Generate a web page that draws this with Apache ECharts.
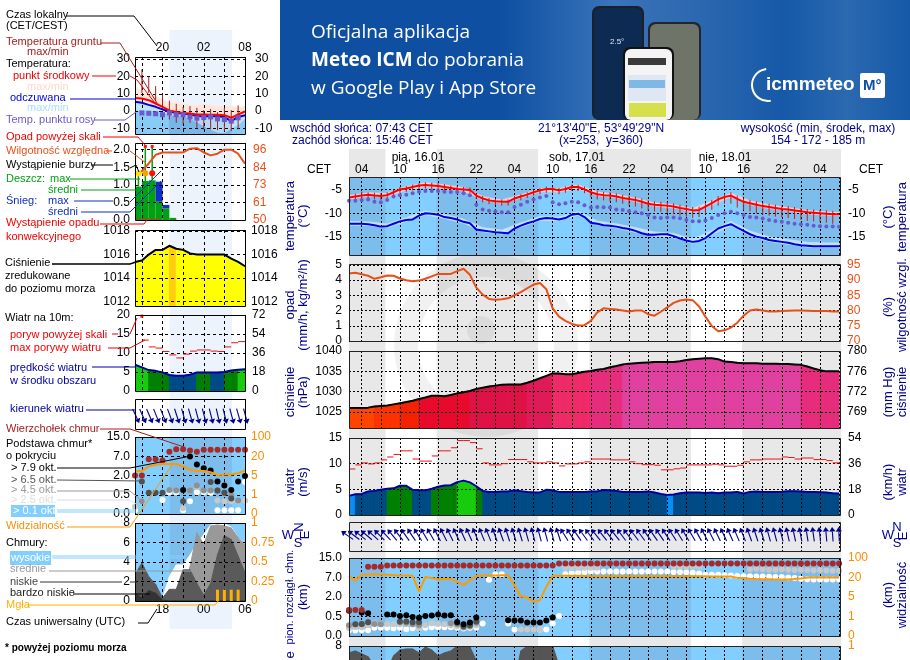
<!DOCTYPE html>
<html><head><meta charset="utf-8">
<script src="https://cdn.jsdelivr.net/npm/echarts@6/dist/echarts.min.js"></script>
<style>html,body{margin:0;padding:0;background:#fff}#c{width:910px;height:660px}</style></head><body><div id="c"></div>
<script>
// ---------- main meteogram: hourly, hours counted from 16.01 00:00 CET ----------
const mainHours = Array.from({length:78},(_,i)=>i+2);
const mainGridHours = [4,7,10,13,16,19,22,25,28,31,34,37,40,43,46,49,52,55,58,61,64,67,70,73,76,79];
const mainLabelHours = [4,10,16,22,28,34,40,46,52,58,64,70,76];
const mainDay = [[7.72,15.77],[31.72,39.77],[55.72,63.77]];
const mainNight = [[2,7.72],[15.77,31.72],[39.77,55.72],[63.77,79.3]];
const mainTemp = [-6.7,-6.5,-6.3,-6.1,-6.3,-6.4,-6.2,-5.6,-5,-4.8,-4.5,-4.2,-4.1,-4.2,-4.3,-4.5,-4.7,-4.9,-5,-5.1,-6.3,-6.9,-7.3,-7.5,-7.6,-7.6,-6.9,-6.5,-6.1,-5.6,-5.2,-4.9,-4.9,-5.2,-4.9,-4.5,-4.5,-5,-5.6,-6,-6.2,-6.3,-6.5,-6.8,-7,-7.2,-7.6,-8,-8.2,-8.3,-8.4,-8.6,-8.9,-9.1,-9.4,-9.3,-8.6,-7.9,-7.1,-6.6,-6.3,-7,-7.6,-7.9,-8.2,-8.5,-8.7,-8.9,-9.1,-9.2,-9.4,-9.6,-9.8,-9.9,-10,-10.1,-10.2,-10.2];
const mainFeels = [-12.2,-12.2,-12.2,-12.3,-12.5,-12.8,-12.7,-12.2,-11.7,-11.4,-11.3,-10.5,-10,-10.1,-10.3,-10.8,-11,-11.3,-11.8,-12.1,-13.4,-13.6,-13.8,-14,-14.1,-14.2,-13.2,-12.6,-12.1,-11.7,-11.2,-11,-11.1,-11.3,-11,-10.3,-10.1,-10.8,-12,-12.2,-12.5,-12.6,-12.8,-13.1,-13.3,-13.7,-14.2,-14.5,-14.5,-14.4,-14.4,-14.8,-15.3,-15.7,-16,-15.8,-15.2,-14.2,-13.2,-12.7,-12.3,-13,-13.7,-14.4,-14.9,-15.2,-15.6,-15.8,-16,-16.2,-16.5,-16.7,-16.8,-16.9,-16.9,-16.9,-16.9,-16.9];
const mainDew = [-7.4,-7.4,-7.2,-7.1,-7.6,-7.7,-7.2,-6.5,-6.25,-6.1,-5.8,-5.5,-5.35,-5.35,-5.35,-5.5,-5.55,-5.55,-5.8,-6.25,-8.2,-9.2,-9.5,-9.65,-9.8,-9.8,-8.7,-8.2,-7.6,-7.1,-6.7,-6.4,-7.7,-8.1,-7.9,-7.6,-7.7,-8.3,-8.8,-8.7,-8.75,-8.8,-9.2,-9.3,-9.6,-9.8,-10,-10.35,-10.9,-11,-10.9,-10.9,-11.05,-11.4,-11.7,-11.7,-11.5,-11,-10.35,-10,-9.7,-10,-10.35,-10.8,-10.9,-11.1,-11.4,-11.6,-11.8,-12,-12.2,-12.3,-12.4,-12.6,-12.7,-12.8,-12.8,-12.85];
const mainGroundHi = [null,-5.9,-5.5,-5.6,-5.7,-5.8,-5.6,-5,-4.5,-4.3,-4,-3.7,-3.5,-3.6,-3.7,-3.9,-4.2,-4.3,-4.5,-4.6,-5.8,-6.4,-6.8,-7,-7.1,-7.1,-6.4,-6,-5.6,-5.1,-4.7,-4.4,-4.4,-4.7,-4.4,-4,-4,-4.4,-5,-5.3,-5.5,-5.6,-5.8,-6.1,-6.3,-6.5,-6.9,-7.3,-7.5,-7.6,-7.7,-7.9,-8.2,-8.4,-8.7,-8.6,-7.9,-7.2,-6.4,-5.9,-5.6,-6.3,-6.9,-7.2,-7.5,-7.8,-8,-8.2,-8.4,-8.5,-8.7,-8.9,-9.1,-9.2,-9.3,-9.4,-9.5,null];
const mainGroundLo = [null,-7.4,-7.1,-7,-7.1,-7.2,-7,-6.3,-5.7,-5.5,-5.2,-4.9,-4.8,-4.9,-5,-5.2,-5.4,-5.6,-5.7,-5.8,-7,-7.7,-8.1,-8.3,-8.4,-8.4,-7.7,-7.3,-6.8,-6.3,-6,-5.7,-5.7,-6,-5.7,-5.3,-5.3,-5.8,-6.6,-7.1,-7.3,-7.5,-7.7,-8,-8.4,-8.6,-9,-9.4,-9.6,-9.7,-10,-10.2,-10.5,-10.7,-11,-10.8,-10.1,-9.3,-8.4,-8,-8,-8.8,-9.3,-9.6,-10,-10.3,-10.5,-10.7,-10.9,-11,-11.2,-11.4,-11.6,-11.7,-11.8,-12,-12.2,null];
const bandHours = [2,5,8,11,14,17,20,23,26,29,32,35,38,41,44,47,50,53,56,59,62,65,68,71,74,77,79];
const tempHi = [-6.3,-5.7,-5.8,-4.4,-3.6,-4,-4.6,-6.5,-7.2,-6.1,-4.8,-4.8,-4,-5.5,-6,-6.8,-7.8,-8.2,-9,-7.4,-5.8,-7.4,-8.2,-8.8,-9.4,-9.7,-9.8];
const tempLo = [-7,-6.4,-6.5,-5.1,-4.4,-4.8,-5.3,-7.2,-7.9,-6.8,-5.5,-5.5,-4.8,-6.3,-6.8,-7.5,-8.5,-8.9,-9.7,-8.2,-6.6,-8.2,-9,-9.5,-10.1,-10.4,-10.5];
const feelsHi = [-11.7,-11.8,-12.2,-10.9,-9.5,-10.2,-11.2,-13,-13.5,-12,-10.7,-10.8,-9.6,-11.6,-12.2,-13,-13.9,-14.2,-15.4,-13.6,-11.7,-13.7,-14.9,-15.5,-16.1,-16.2,-16.2];
const feelsLo = [-12.5,-12.6,-13,-11.7,-10.3,-11.1,-12.1,-13.9,-14.4,-12.9,-11.5,-11.6,-10.4,-12.5,-13.1,-14,-14.8,-15.1,-16.3,-14.5,-12.6,-14.7,-15.9,-16.5,-17.1,-17.2,-17.2];
const mainHumidity = [92.1,92.4,91.9,91.4,90.4,90.9,91.5,91.4,90.5,89.9,89.6,89.8,90.4,91.2,92,92,92,92.9,93.7,91.7,87.5,85.2,83.8,83.5,83.7,84,85,86,87.3,88.5,89,87,80.7,78,76.6,75.6,75.1,75.2,76.6,79.4,80.7,80.5,80.3,80,79.7,80,80,78.8,78.3,79.6,81,82.5,83.3,83.6,83.4,81.3,78,74.9,73.2,73.5,74.4,76,78.3,80,80.3,80,79.7,79.7,79.8,79.9,80,80,79.9,79.8,79.8,79.8,79.7,79.7];
const mainPressure = [1026,1026,1026,1026.1,1026.4,1026.5,1026.6,1026.9,1027.2,1027.5,1027.8,1028.2,1028.6,1029,1029,1028.9,1029.2,1029.6,1029.9,1030.2,1030.7,1031,1031.3,1031.5,1031.7,1031.8,1031.8,1031.8,1032.2,1032.7,1033.3,1033.9,1034.5,1034.5,1034.3,1034.3,1034.6,1034.9,1035.1,1035.4,1035.6,1036,1036.3,1036.7,1036.9,1037,1037.1,1037.2,1037.3,1037.3,1037.3,1037.3,1037.5,1037.8,1038,1038.1,1038.2,1038.2,1038,1037.4,1037.3,1037.1,1037,1037,1037,1036.9,1036.9,1036.9,1036.8,1036.8,1036.7,1036.6,1036.2,1035.7,1035.3,1035,1035,1035];
const mainWind = [3.73,4.06,4.1,4.6,4.7,4.9,5.1,5.2,5.7,5.7,4.9,4.8,4.8,5.1,5.5,5.75,5.8,6.4,6.7,6.35,5.6,4.7,4.5,4.5,4.6,4.6,4.8,4.65,4.5,4.4,4.4,4.9,4.8,4.5,4.5,4.5,4.5,4.5,4.6,4.6,4.85,4.8,4.7,4.5,4.5,4.5,4.5,4.6,4.4,4.1,3.9,4,4.25,4.4,4.4,4.4,4.3,4.4,4.25,4.4,4.4,4.5,4.2,4.5,4.6,4.5,4.5,4.5,4.55,4.65,4.65,4.6,4.5,4.5,4.45,4.4,4.25,4.2];
const mainGust = [8.97,9.76,10.15,9.95,10.15,10.74,11.3,11.8,12.5,12.5,10.9,10.5,10.5,11.5,12.5,12.5,13.1,14.5,14.5,14.1,12.9,10.15,9.76,9.76,10,10.8,10.8,10.8,10.35,10.15,10.15,10.35,10.15,9.56,9.95,9.95,10.15,10.35,10.9,10.9,10.9,10.74,10.74,10.74,10.35,10,9.8,9.8,9.7,8.8,8.8,9,9.15,9.76,9.76,9.76,9.76,9.9,9.76,9.5,9.5,9.7,10.35,10.74,10.74,10.9,10.9,10.9,11.3,11.2,10.9,11.1,11.1,10.8,10.8,10.6,10.15,10.15];
const mainWindDir = [305,307,308,310,312,315,318,320,322,325,326,328,330,330,332,333,334,335,336,336,337,338,338,340,340,342,343,343,344,345,345,345,345,342,328,326,325,324,323,322,322,322,322,323,323,323,324,325,325,325,326,327,328,329,330,331,332,333,334,335,336,337,338,340,342,343,344,345,346,347,348,349,351,352,354,355,356,357];
// cloud-base panel values are positions on its stepped axis (0.0, 0.5, 2.0, 7.0, 15.0 km = 0..4)
const baseKmLabels = ['0.0','0.5','2.0','7.0','15.0'];
const visLabels = ['0','1','5','20','100'];
const mainCloudTop = [1.33,1.33,1.33,3.55,3.55,3.55,3.62,3.62,3.62,3.62,3.62,3.62,3.62,3.62,3.62,3.62,3.62,3.62,3.62,3.62,3.62,3.62,3.62,3.62,3.62,3.62,3.62,3.62,3.62,3.62,3.62,3.62,3.62,3.72,3.72,3.72,3.72,3.72,3.72,3.72,3.72,3.72,3.72,3.72,3.72,3.72,3.72,3.72,3.72,3.72,3.72,3.72,3.72,3.72,3.72,3.72,3.72,3.72,3.72,3.72,3.72,3.72,3.72,3.72,3.72,3.72,3.72,3.72,3.72,3.72,3.72,3.72,3.72,3.72,3.72,3.72,3.72,3.72];
const mainBase79 = [1.3,null,1.2,1.17,null,null,1.1,1.1,1.03,1.07,0.97,0.93,1.02,1.05,1.1,1.05,1.07,0.72,0.6,0.69,0.95,null,null,null,null,0.81,0.79,0.79,0.69,0.69,0.69,0.79,0.95];
const mainBase65 = [null,0.6,0.62,0.7,null,null,null,null,0.75,0.75,0.7,0.7,null,null,null,null,null,0.68,0.5,0.55,0.75];
const mainBase45 = [0.55,0.6,0.6,0.7,0.62,0.6,null,null,0.7,0.68,0.6,0.55,null,null,null,null,0.65,0.6,0.45,0.5,0.68];
const mainBase25 = [0.4,0.45,0.45,0.55,0.65,0.62,0.62,0.6,0.6,0.6,0.6,0.4,0.55,0.65,0.62,0.6,0.55,0.5,0.42,0.48,0.55,null,null,null,null,null,null,0.33,0.33,0.33,0.33,null,null,null,3.5,3.5,3.5,3.5,3.5,3.5,null,null,null,null,null,null,null,null,null,null,null,3.55,3.55,3.55,3.55,3.55,null,null,null,null,null,null,null,3.42,3.45,3.42,3.4,3.4,3.42,3.4,3.38,3.4,3.38,3.36,3.38,3.36,3.35,3.35];
const mainBase01 = [0.3,0.28,0.3,0.3,0.42,0.42,0.42,0.4,0.42,0.35,0.4,0.4,0.42,0.45,0.45,0.45,0.45,0.42,0.38,0.42,0.42,0.64,2.88,3.17,3.17,0.64,0.33,null,null,null,0.33,0.33,0.64,1.02,3.17,3.22,3.25,3.28,3.31,3.31,3.31,3.31,3.31,3.31,3.31,3.31,3.31,3.31,3.31,3.31,3.31,3.28,3.28,3.27,3.25,3.2,3.14,3.14,3.14,3.12,3.1,3.08,3.07,3.06,3.05,3.05,3.04,3.03,3.02,3,2.97,2.94,2.91,2.9,2.9,2.9,2.9,2.9];
const mainVisibility = [3.09,2.83,3.14,3.15,3.17,3.15,3.14,3.12,3.1,3.1,3.09,2.28,3.02,2.97,2.91,2.92,2.93,2.78,2.62,2.85,3.09,3.1,3.1,3.1,3.11,3.12,2.6,2.02,1.97,1.76,1.84,2.53,3.09,3.09,3.09,3.09,3.09,3.08,3.07,3.07,3.07,3.07,3.07,3.07,3.07,3.07,3.07,3.07,3.07,3.07,3.07,3.07,3.07,3.07,3.07,3.07,3.06,3.05,3.05,3.05,3.05,2.98,2.97,2.94,2.92,2.91,2.91,2.9,2.9,2.9,2.92,2.95,3,3,3,3,3,3];
const mainCloudLow = [7.3,7.5,7.2,6.9,6,5,5.5,7,7.6,7.7,7.7,7.3,7.9,7.6,7,7.3,7.5,8,8,7.9,6.5,4,4,4,4,4,4.5,7.5,8,8,8,8,8,6,3,2,2,2,2,2,1,1,1,1,1,1,1,1,1,1,1,1,1,1,1,1,1,1,1,1,1,1,1,1,1,1,1,1,1,1,1,1,1,1,1,1,1,1];
const mainBaseTicks = [0,1,2,3,4];
const mmHgLabels = ['769','772','776','780'];
// ---------- legend sample meteogram ----------
const leftHours = [16,17,18,19,20,21,22,23,24,25,26,27,28,29,30,31,32];
const leftGridHours = [17,20,23,26,29,32];
const leftNight = [[21.04,30.1]];
const leftTemp = [7.6,7.3,6.3,4.4,2.5,0.4,-0.5,-1,-1.3,-1.9,-1.9,-2.1,-2.1,-2.3,-3.8,-1.9,-0.2];
const leftFeels = [5.4,4.8,3.6,2.5,1,0,-1,-1.3,-1.9,-2.7,-2.9,-2.7,-2.9,-3.4,-5.7,-3.3,-2.3];
const leftTempHi = [14,11.5,10,8.6,6.7,4.8,4.8,4.4,3.3,3.3,3.7,3.3,2.9,2.5,2.9,1.9,2.9];
const leftDeep = [0,0,0,-0.6,-1.3,-2.5,-3.3,-3.3,-4.8,-6.7,-9,-11,-12.6,-13,-10.4,-8.4,-4.8];
const leftDew = [null,-1,-1.2,-1.5,-2,-1,-2,-2.1,-3.3,-4,-3.7,-3.3,-4.4,-4.8,-5.7,-3.8,null];
const leftGroundHi = [null,24,19.9,14.4,9.6,6.1,4.2,2.5,2.9,1.9,0.6,1.3,-0.6,1.9,0.6,3.3,null];
const leftGroundLo = [null,10.5,10.5,5.7,1.3,-4.8,-6.7,-7.7,-6.7,-9.6,-10.5,-10.5,-10.9,-11.5,-11.5,-10.5,null];
const leftHumidity = [80,82,87,92.7,94.2,94.2,94.2,94.2,96.7,97,94.2,92.3,93.4,96,96,93.4,86.8];
const leftRain = [0.95,1.11,1.13,0.52,0.33,0.06];
const leftSnow = [0,0,0,0.57,0.1,0];
const leftRainMax = [1.33,2.09,2.09];
const leftPressure = [1015.37,1015.5,1016,1016.4,1016.4,1016.75,1016.5,1016.4,1016.1,1016,1016,1016,1016,1016,1015.66,1015.37,1015];
const leftWind = [6.9,6.2,5.5,5.3,4.9,4.2,4,4,4.3,4.9,4.9,4.9,4.9,5,5.4,5.6,5.7];
const leftWindClass = [2,2,1,1,1,0,0,0,0,1,1,0,0,1,1,2,2];
const leftGust = [null,13.4,11.6,11.3,10.4,9.5,8.7,9.7,10.5,10.8,10.8,10.5,10.4,11.6,12.7,13,null];
const leftWindDir = [155,156,157,158,158,160,162,164,164,165,165,166,167,166,165,164,165];
const leftCloudTop = [2,2,2.85,2.85,2.78,3.24,3.36,3.36,3.3,3.24,3.34,3.34,3.34,3.34,3.34,3.34,3.34];
const leftBase79 = [null,null,null,null,null,null,null,1.25,2.99,2.57,2.38,2.26,1.69,1.48,1.25,1.69,1.97];
const leftBase65 = [null,1.69,1.1,1.1,1.1,null,null,0.66,null,null,null,1.66,1.22,1.1,0.8,null,null];
const leftBase45 = [null,0.66,null,null,null,1.25,1.22,null,1.22,1.48,1.22,1.22,1.22,1.1,0.96,0.7,null];
const leftBase25 = [0.38,null,null,null,null,1.25,null,0.3,null,1.4,null,null,0.7,0.66,0.66,0.66,0.7];
const leftBase01 = [0.2,0.66,null,null,0.73,1.13,1.13,0.2,0.66,1.13,1.13,1.1,0.2,0.2,0.2,0.2,1.66];
const leftVisibility = [2.23,2.23,2.47,2.56,2.6,2.6,2.6,2.47,2.3,2.23,2.23,2.17,2.03,2.05,2.05,2.12,2.26];
const leftCloudHigh = [0,0,0,0.2,0.3,2.5,3.7,3.7,4.7,5.9,6.8,7.8,7.9,7.9,7.6,6.5,5.9];
const leftCloudMid = [0,0,0,0,0,0,0,0,3.5,7,5.8,7.7,7.8,7.7,7.5,6.5,5.8];
const leftCloudLow = [2.7,3.9,2.5,1.7,0.3,1.2,1.2,3.2,3.2,1.8,0.6,1.8,4.75,6.7,6.3,4.6,2.9];
const leftCloudVeryLow = [0.8,0.3,1.06,0.8,0.1,0,0,0,0,0,0,0,0,0,0,0,0];
const leftFog = [null,null,null,null,null,null,null,null,null,null,null,null,0.145,0.145,0.145,0.145,null];
const utcLabels = {20:'18',26:'00',32:'06'};

// ---------- layout ----------
const FONT = '"Liberation Sans", Arial, sans-serif';
const NAVY='#00008c', ORG='#ff8c00', HUM='#e8501a', DKRED='#a52020', PURP='#6a5ad0';
const grids=[],xAxes=[],yAxes=[],series=[];
function panel(c){
  const g=grids.length;
  grids.push({left:c.left,top:c.top,width:c.width,height:c.height,show:true,borderWidth:0,backgroundColor:c.bg||'transparent',outerBoundsMode:'none',containLabel:false});
  const x={type:'value',gridIndex:g,min:c.xmin,max:c.xmax,z:2,axisLine:{show:false},
    axisTick:{show:false,customValues:c.xGrid||[]},splitLine:{show:!!c.xGrid,lineStyle:{type:c.dash,color:'#000',width:1}},
    axisLabel:{show:false}};
  if(c.xLabels){x.position=c.xPos;x.axisLabel={show:true,customValues:c.xLabels,formatter:c.xFmt,fontFamily:FONT,fontSize:12,color:'#000',margin:c.xMargin};}
  const xi=xAxes.length;xAxes.push(x);
  const lab=(vals,fmt,col,m)=>({show:!!vals,customValues:vals||[],formatter:fmt||(v=>String(v)),fontFamily:FONT,fontSize:12,color:col||'#000',margin:m});
  const yi=yAxes.length;
  yAxes.push({type:'value',gridIndex:g,min:c.ymin,max:c.ymax,position:'left',z:2,axisLine:{show:false},
    axisTick:{show:false,customValues:c.yGrid||[]},splitLine:{show:!!c.yGrid,lineStyle:{type:c.dash,color:'#000',width:1}},
    axisLabel:lab(c.yLabels,c.yFmt,'#000',c.lm||5)});
  const ri=yAxes.length;
  yAxes.push({type:'value',gridIndex:g,min:c.rmin,max:c.rmax,position:'right',z:2,axisLine:{show:false},
    axisTick:{show:false,customValues:c.rLabels||[]},splitLine:{show:false},
    axisLabel:lab(c.rLabels,c.rFmt,c.rCol,c.rm||5)});
  return {xi,yi,ri,...c};
}
const pairs=(h,a)=>h.map((x,i)=>[x,a[i]]);
const base={animation:false,silent:true};
function bands(p,list,color,z){
  series.push({...base,type:'custom',xAxisIndex:p.xi,yAxisIndex:p.yi,z,clip:true,data:list,
    renderItem:(q,api)=>{const a=api.coord([api.value(0),p.ymin]),b=api.coord([api.value(1),p.ymin]),s=q.coordSys;
      return {type:'rect',shape:{x:a[0],y:s.y,width:b[0]-a[0],height:s.height},style:{fill:color}};}});
}
function line(p,h,a,color,width,useR,z){
  series.push({...base,type:'line',xAxisIndex:p.xi,yAxisIndex:useR?p.ri:p.yi,data:pairs(h,a),showSymbol:false,connectNulls:false,
    lineStyle:{color,width,join:'round'},itemStyle:{color},z:z||3});
}
function dots(p,h,a,color,size,sym,useR,z){
  series.push({...base,type:'scatter',xAxisIndex:p.xi,yAxisIndex:useR?p.ri:p.yi,data:pairs(h,a).filter(d=>d[1]!==null&&d[1]!==undefined),symbol:sym||'circle',symbolSize:size,itemStyle:{color,opacity:1},z:z||3});
}
// polygon from the axis floor to the values, one segment per step; colour chosen per segment
function fill(p,h,a,colorFn,z){
  series.push({...base,type:'custom',xAxisIndex:p.xi,yAxisIndex:p.yi,z:z||1,clip:true,
    data:h.slice(0,-1).map((x,i)=>[x,a[i],h[i+1],a[i+1],i]),
    renderItem:(q,api)=>{const x0=api.value(0),v0=api.value(1),x1=api.value(2),v1=api.value(3),c=colorFn(v0,x0,api.value(4));
      return {type:'polygon',shape:{points:[api.coord([x0,p.ymin]),api.coord([x0,v0]),api.coord([x1,v1]),api.coord([x1,p.ymin])]},style:{fill:c,stroke:c,lineWidth:1}};}});
}
function band(p,h,lo,hi,color,z){
  series.push({...base,type:'custom',xAxisIndex:p.xi,yAxisIndex:p.yi,z:z||1,clip:true,
    data:h.slice(0,-1).map((x,i)=>[x,lo[i],hi[i],h[i+1],lo[i+1],hi[i+1]]),
    renderItem:(q,api)=>{const v=api.value;
      return {type:'polygon',shape:{points:[api.coord([v(0),v(1)]),api.coord([v(0),v(2)]),api.coord([v(3),v(5)]),api.coord([v(3),v(4)])]},style:{fill:color,stroke:color,lineWidth:0.6}};}});
}
function whiskers(p,h,lo,hi,color,width){
  series.push({...base,type:'custom',xAxisIndex:p.xi,yAxisIndex:p.yi,z:3,clip:true,
    data:h.map((x,i)=>[x,lo[i],hi[i]]).filter(d=>d[1]!==null),
    renderItem:(q,api)=>{const a=api.coord([api.value(0),api.value(1)]),b=api.coord([api.value(0),api.value(2)]);
      return {type:'line',shape:{x1:a[0],y1:a[1],x2:b[0],y2:b[1]},style:{stroke:color,lineWidth:width}};}});
}
function steps(p,h,a,color){
  series.push({...base,type:'custom',xAxisIndex:p.xi,yAxisIndex:p.yi,z:3,clip:true,
    data:h.map((x,i)=>[x,a[i]]).filter(d=>d[1]!==null),
    renderItem:(q,api)=>{const a0=api.coord([api.value(0),api.value(1)]),b0=api.coord([api.value(0)+1,api.value(1)]);
      return {type:'line',shape:{x1:a0[0],y1:a0[1],x2:b0[0],y2:b0[1]},style:{stroke:color,lineWidth:1}};}});
}
function arrows(p,h,dir,len,head){
  series.push({...base,type:'custom',xAxisIndex:p.xi,yAxisIndex:p.yi,z:3,clip:false,
    data:h.map((x,i)=>[x,dir[i]]),
    renderItem:(q,api)=>{const c=api.coord([api.value(0),0.5]),t=api.value(1)*Math.PI/180,dx=Math.sin(t),dy=-Math.cos(t);
      const hx=c[0]+dx*len/2,hy=c[1]+dy*len/2,tx=c[0]-dx*len/2,ty=c[1]-dy*len/2;
      return {type:'group',children:[
        {type:'line',shape:{x1:tx,y1:ty,x2:hx,y2:hy},style:{stroke:NAVY,lineWidth:1.1}},
        {type:'polygon',shape:{points:[[hx+dx*head,hy+dy*head],[hx-dy*head*.7,hy+dx*head*.7],[hx+dy*head*.7,hy-dx*head*.7]]},style:{fill:NAVY}}]};}});
}
const ML={left:349,width:492,xmin:2,xmax:79.3,xGrid:mainGridHours,dash:[2,2]};
const LL={left:135,width:110,xmin:16,xmax:32,xGrid:leftGridHours,dash:[3,3]};
const SKY='#82cfff', SKYN='#7cbdec';

// page background bands first
const bgMain=panel({left:349,width:492,xmin:2,xmax:79.3,top:149,height:511,ymin:0,ymax:1,rmin:0,rmax:1,dash:[2,2]});
bands(bgMain,mainNight,'#e8e8e8',-2);
const bgLeft=panel({left:135,width:110,xmin:16,xmax:32,top:30,height:599,ymin:0,ymax:1,rmin:0,rmax:1,dash:[3,3]});
bands(bgLeft,leftNight,'#ecf3fd',-2);

// ---- main panels ----
const mT=panel({...ML,top:177,height:78,bg:SKYN,ymin:-18.75,ymax:-2.4,rmin:-18.75,rmax:-2.4,yGrid:[-15,-10,-5],yLabels:[-15,-10,-5],rLabels:[-15,-10,-5],
  xLabels:mainLabelHours,xPos:'top',xFmt:v=>String(v%24).padStart(2,'0'),xMargin:1,rm:7,lm:7});
bands(mT,mainDay,SKY,0.5);
band(mT,bandHours,tempLo,tempHi,'#ffd0d2',1);
band(mT,bandHours,feelsLo,feelsHi,'#c2e2fb',1);
dots(mT,mainHours,mainDew,PURP,4);
whiskers(mT,mainHours,mainGroundLo,mainGroundHi,'#c01c1c',1);
line(mT,mainHours,mainFeels,'#0000e0',2);
line(mT,mainHours,mainTemp,'#ff0000',2);

const mR=panel({...ML,top:264,height:77,ymin:0,ymax:5.05,rmin:70,rmax:95.25,yGrid:[0,1,2,3,4,5],yLabels:[0,1,2,3,4,5],rLabels:[70,75,80,85,90,95],rCol:HUM,rm:6,lm:7});
line(mR,mainHours,mainHumidity,HUM,2,true);

const mP=panel({...ML,top:351,height:77,ymin:1021.1,ymax:1040,rmin:1021.1,rmax:1040,yGrid:[1025,1030,1035,1040],yLabels:[1025,1030,1035,1040],rLabels:[1025,1030,1035,1040],rFmt:v=>mmHgLabels[[1025,1030,1035,1040].indexOf(v)],rm:6,lm:7});
const pCol=v=>v<1026.3?'#ff4400':v<1027?'#fb3300':v<1028.2?'#f32200':v<1030?'#e80a2c':v<1032?'#de1246':v<1034?'#de1a58':v<1035?'#ee2a68':v<1036.7?'#e62c7c':'#e040a0';
fill(mP,mainHours,mainPressure,pCol);
line(mP,mainHours,mainPressure,'#000',2);

const mW=panel({...ML,top:438,height:77,ymin:0,ymax:15,rmin:0,rmax:54,yGrid:[5,10,15],yLabels:[0,5,10,15],rLabels:[0,18,36,54],rm:7,lm:7});
const wCol=v=>v<4?'#0a8cf5':v<5?'#004a85':v<6?'#008000':'#17cc0d';
fill(mW,mainHours,mainWind,wCol);
line(mW,mainHours,mainWind,'#0000a0',2);
steps(mW,mainHours,mainGust,'#f01010');

const mD=panel({...ML,top:522,height:29,ymin:0,ymax:1,rmin:0,rmax:1});
arrows(mD,mainHours,mainWindDir,10,4.5);

const mB=panel({...ML,top:558,height:78,bg:SKYN,ymin:0,ymax:4,rmin:0,rmax:4,yGrid:mainBaseTicks,yLabels:mainBaseTicks,yFmt:v=>baseKmLabels[v],rLabels:mainBaseTicks,rFmt:v=>visLabels[v],rCol:ORG,rm:7,lm:7});
bands(mB,mainDay,SKY,0.5);
dots(mB,mainHours,mainBase01,'#fff',6);
dots(mB,mainHours,mainBase25,'#c8c8c8',6);
dots(mB,mainHours,mainBase45,'#909090',6);
dots(mB,mainHours,mainBase65,'#505050',6);
dots(mB,mainHours,mainBase79,'#000',6);
dots(mB,mainHours,mainCloudTop,'#a52a2a',6);
line(mB,mainHours,mainVisibility,'#ff9900',2,false,4);

const mC=panel({...ML,top:646,height:78,bg:SKYN,ymin:0,ymax:8,rmin:0,rmax:1,yGrid:[0,2,4,6,8],yLabels:[8],rLabels:[1],rCol:ORG,rm:7,lm:7});
bands(mC,mainDay,SKY,0.5);
fill(mC,mainHours,mainCloudLow,()=>'#555555');

// ---- legend panels ----
const lT=panel({...LL,top:57,height:77,ymin:-13.1,ymax:31.1,rmin:-13.1,rmax:31.1,yGrid:[-10,0,10,20,30],yLabels:[-10,0,10,20,30],rLabels:[-10,0,10,20,30],
  xLabels:[20,26,32],xPos:'top',xFmt:v=>String(v%24).padStart(2,'0'),xMargin:3,rm:10,lm:5});
const inNight=x=>x>=21&&x<30;
band(lT,leftHours,leftFeels,leftTempHi,'#ffe6dc',1);
fill(lT,leftHours,leftFeels,(v,x)=>inNight(x)?'#b4d8f4':'#c0e5fb',1);
fill(lT,leftHours,leftDeep,(v,x)=>inNight(x)?'#78b6e8':'#88ccf5',1);
dots(lT,leftHours,leftDew,PURP,5,'rect');
whiskers(lT,leftHours,leftGroundLo,leftGroundHi,DKRED,1);
line(lT,leftHours,leftFeels,'#0000e0',2);
line(lT,leftHours,leftTemp,'#ff0000',2);

const lR=panel({...LL,top:143,height:77,ymin:0,ymax:2.19,rmin:50,rmax:100.4,yGrid:[0.5,1,1.5,2],yLabels:[0,0.5,1,1.5,2],yFmt:v=>v.toFixed(1),rLabels:[50,61.5,73,84.5,96],rFmt:v=>String(Math.floor(v)),rCol:HUM,rm:8,lm:5});
series.push({...base,type:'custom',xAxisIndex:lR.xi,yAxisIndex:lR.yi,z:1,clip:true,data:leftRain.map((v,i)=>[leftHours[i],v,leftSnow[i]]),
  renderItem:(q,api)=>{const x=api.value(0),r=api.value(1),s=api.value(2),a=api.coord([x,0]),b=api.coord([x+1,r]),c=api.coord([x+1,r+s]);
    return {type:'group',children:[
      {type:'rect',shape:{x:a[0],y:b[1],width:b[0]-a[0],height:a[1]-b[1]},style:{fill:'#00a014'}},
      {type:'rect',shape:{x:a[0],y:c[1],width:b[0]-a[0],height:b[1]-c[1]},style:{fill:'#1030c0'}}]};}});
const maxH=[16.5,17.5,18.5];
whiskers(lR,maxH,leftRain.slice(0,3),leftRainMax,'#00a014',1.5);
line(lR,leftHours,leftHumidity,HUM,2,true);
dots(lR,[16.5],[1.33],'#ffe000',6,'circle',false,4);
dots(lR,[17.5],[1.33],'#ffa000',6,'circle',false,4);
dots(lR,[18.5],[1.33],'#ff1000',6,'circle',false,4);
dots(lR,[17.5,18.5],[2.09,2.09],'#ff1000',3,'rect',false,4);
dots(lR,[16.5,17,17.5,18,18.5,19,19.5],[0.01,0.01,0.01,0.01,0.01,0.01,0.01],'#ff2000',2,'rect',false,4);

const lP=panel({...LL,top:230,height:76,ymin:1011.6,ymax:1018.1,rmin:1011.6,rmax:1018.1,yGrid:[1012,1014,1016,1018],yLabels:[1012,1014,1016,1018],rLabels:[1012,1014,1016,1018],rm:6,lm:5});
fill(lP,leftHours,leftPressure,v=>v>=1016.6?'#ffcc11':'#ffff00');
line(lP,leftHours,leftPressure,'#000',2);

const lW=panel({...LL,top:315,height:76,ymin:0,ymax:20,rmin:0,rmax:72,yGrid:[5,10,15],yLabels:[0,5,10,15,20],rLabels:[0,18,36,54,72],rm:7,lm:5});
const lwPal=['#004a85','#008000','#17cc0d'];
fill(lW,leftHours,leftWind,(v,x,i)=>lwPal[leftWindClass[i]]);
line(lW,leftHours,leftWind,'#0000a0',2);
steps(lW,leftHours,leftGust,'#f01010');
dots(lW,[17],[19.7],'#ff1000',3,'rect',false,4);

const lD=panel({...LL,top:399,height:30,ymin:0,ymax:1,rmin:0,rmax:1,yGrid:null});
arrows(lD,leftHours,leftWindDir,11,4.5);

const lB=panel({...LL,top:437,height:77,bg:SKY,ymin:0,ymax:4,rmin:0,rmax:4,yGrid:mainBaseTicks,yLabels:mainBaseTicks,yFmt:v=>baseKmLabels[v],rLabels:mainBaseTicks,rFmt:v=>visLabels[v],rCol:ORG,rm:6,lm:5});
bands(lB,leftNight,SKYN,0.5);
dots(lB,leftHours,leftBase01,'#fff',6);
dots(lB,leftHours,leftBase25,'#c8c8c8',6);
dots(lB,leftHours,leftBase45,'#909090',6);
dots(lB,leftHours,leftBase65,'#505050',6);
dots(lB,leftHours,leftBase79,'#000',6);
dots(lB,leftHours,leftCloudTop,'#a52a2a',6);
line(lB,leftHours,leftVisibility,'#ff9900',2,false,4);

const lC=panel({...LL,top:523,height:78,bg:SKY,ymin:0,ymax:8,rmin:0,rmax:1,yGrid:[2,4,6,8],yLabels:[0,2,4,6,8],rLabels:[0,0.25,0.5,0.75,1],rCol:ORG,rm:6,lm:5,
  xLabels:[20,26,32],xPos:'bottom',xFmt:v=>utcLabels[v],xMargin:3});
bands(lC,leftNight,SKYN,0.5);
fill(lC,leftHours,leftCloudHigh,()=>'#ffffff');
fill(lC,leftHours,leftCloudMid,()=>'#999999');
fill(lC,leftHours,leftCloudLow,()=>'#5a5a5a');
fill(lC,leftHours,leftCloudVeryLow,()=>'#333333');
series.push({...base,type:'custom',xAxisIndex:lC.xi,yAxisIndex:lC.ri,z:3,clip:true,data:pairs(leftHours,leftFog).filter(d=>d[1]!==null),
  renderItem:(q,api)=>{const a=api.coord([api.value(0),0]),b=api.coord([api.value(0),api.value(1)]);
    return {type:'rect',shape:{x:a[0]-1.5,y:b[1],width:3,height:a[1]-b[1]},style:{fill:'#ffb000'}};}});

// ---------- annotation graphics ----------
const G=[];
function T(x,y,text,fill,o={}){G.push({type:'text',x,y,rotation:o.rot||0,z:12,silent:true,style:{text,fill,font:(o.bold?'bold ':'')+(o.size||12)+'px '+(o.family||FONT),align:o.align||'left',verticalAlign:'middle'}});}
function L(pts,color,w){G.push({type:'polyline',z:11,silent:true,shape:{points:pts},style:{stroke:color,lineWidth:w||1,fill:null}});}
function R(x,y,w,h,fill,o={}){G.push({type:'rect',z:o.z===undefined?1:o.z,silent:true,shape:{x,y,width:w,height:h,r:o.r||0},style:{fill,stroke:o.stroke||null,lineWidth:o.lw||1,opacity:o.op===undefined?1:o.op}});}

// banner
G.push({type:'rect',z:1,silent:true,shape:{x:280,y:0,width:630,height:120},style:{fill:new echarts.graphic.LinearGradient(0,0,1,0,[{offset:0,color:'#0e4fa2'},{offset:.35,color:'#0e4fa2'},{offset:.53,color:'#3a74ba'},{offset:.68,color:'#2a66ae'},{offset:.8,color:'#1659a8'},{offset:.9,color:'#2b69b0'},{offset:1,color:'#1659a8'}])}});
R(592,6,52,114,'#1c1f26',{z:2,r:7});R(594,8,48,112,'#0d2a52',{z:2,r:6});
R(648,22,53,98,'#22252b',{z:2,r:7});R(650,24,49,96,'#6e7468',{z:2,r:6});
R(623,47,51,73,'#111',{z:3,r:7});R(625,49,47,71,'#f4f4f4',{z:3,r:6});
R(628,58,38,7,'#3a3a3a',{z:3});R(628,75,38,26,'#dfe8f2',{z:3});R(629,80,36,8,'#7fb8e6',{z:3});R(629,103,37,14,'#d6e04a',{z:3});
T(610,42,'2.5°','#dfe8f5',{size:8});
const BF='"Open Sans"';
T(311,33,'Oficjalna aplikacja','#fff',{size:19,family:BF});
T(311,61,'Meteo ICM','#fff',{size:19,family:BF,bold:true});
T(416,61,'do pobrania','#fff',{size:19,family:BF});
T(311,89,'w Google Play i App Store','#fff',{size:19,family:BF});
T(766,85,'icmmeteo','#fff',{size:19,bold:true});
R(860,73,25,25,'#fff',{z:4,r:2});
T(863,86,'M°','#0e4fa2',{size:15,bold:true});
G.push({type:'arc',z:4,silent:true,shape:{cx:768,cy:85,r:16,startAngle:1.4,endAngle:4.6},style:{stroke:'#fff',lineWidth:2,fill:null}});

// header
T(290,129,'wschód słońca: 07:43 CET',NAVY);
T(292,141,'zachód słońca: 15:46 CET',NAVY);
T(601,129,'21°13\'40"E, 53°49\'29"N',NAVY,{align:'center'});
T(601,141,'(x=253,  y=360)',NAVY,{align:'center'});
T(818,129,'wysokość (min, środek, max)',NAVY,{align:'center'});
T(818,141,'154 - 172 - 185 m',NAVY,{align:'center'});
T(319,170,'CET','#000',{align:'center'});
T(871,170,'CET','#000',{align:'center'});
T(418,158,'pią, 16.01','#000',{align:'center'});
T(577,158,'sob, 17.01','#000',{align:'center'});
T(725,158,'nie, 18.01','#000',{align:'center'});
const up=Math.PI/2;
[[290,216,'temperatura',13],[303,216,'(°C)',13],[290,305,'opad',13],[303,305,'(mm/h, kg/m²/h)',13],[290,392,'ciśnienie',13],[303,392,'(hPa)',13],[290,482,'wiatr',13],[303,482,'(m/s)',13],[290,597,'pion. rozciągł. chm.',11],[303,597,'(km)',13],[290,655,'e',13],
 [902,217,'temperatura',13],[888,217,'(°C)',13],[902,305,'wilgotność wzgl.',13],[888,307,'(%)',13],[902,392,'ciśnienie',13],[888,392,'(mm Hg)',13],[902,482,'wiatr',13],[888,482,'(km/h)',13],[902,595,'widzialność',13],[888,595,'(km)',13]]
 .forEach(a=>T(a[0],a[1],a[2],NAVY,{rot:up,align:'center',size:a[3]}));
T(299,527,'N',NAVY,{rot:up,align:'center',size:13});T(288,535,'W',NAVY,{align:'center',size:13});T(305,535,'E',NAVY,{rot:up,align:'center',size:13});T(298,543,'S',NAVY,{align:'center',size:13});
T(897,527,'N',NAVY,{align:'center',size:13});T(888,535,'W',NAVY,{align:'center',size:13});T(903,536,'E',NAVY,{rot:up,align:'center',size:13});T(897,543,'S',NAVY,{align:'center',size:13});

// panel frames
[[349,177,492,78],[349,264,492,77],[349,351,492,77],[349,438,492,77],[349,522,492,29],[349,558,492,78],[349,646,492,78]].forEach(f=>R(f[0]+.5,f[1]+.5,f[2]-1,f[3],null,{z:10,stroke:'#222'}));
[[135,57,110,77],[135,143,110,77],[135,230,110,76],[135,315,110,76],[135,399,110,30],[135,437,110,77],[135,523,110,78]].forEach(f=>R(f[0]+.5,f[1]+.5,f[2],f[3],null,{z:10,stroke:'#000'}));

// faint watermark behind the main panels
G.push({type:'ring',z:-1,silent:true,shape:{cx:486,cy:345,r:92,r0:68},style:{fill:'rgba(0,0,0,0.055)'}});
G.push({type:'circle',z:-1,silent:true,shape:{cx:481,cy:330,r:14},style:{fill:'rgba(0,0,0,0.055)'}});

// legend text + leader lines
const LS=11;
const leg=[
 [6,15,'Czas lokalny','#000'],[6,26,'(CET/CEST)','#000'],
 [6,42,'Temperatura gruntu',DKRED],[27,52,'max/min',DKRED],
 [6,64,'Temperatura:','#000'],[13,76,'punkt środkowy','#f00000'],[27,87,'max/min','#ffd8c8'],
 [10,98,'odczuwana','#0000d8'],[27,108,'max/min','#a8e0ff'],[6,120,'Temp. punktu rosy',PURP],
 [6,137,'Opad powyżej skali','#f00000'],[6,151,'Wilgotność względna',HUM],[6,165,'Wystąpienie burzy','#000'],
 [6,179,'Deszcz:','#00a014'],[50,179,'max','#00a014'],[48,190,'średni','#00a014'],
 [6,201,'Śnieg:','#1030c0'],[48,201,'max','#1030c0'],[48,212,'średni','#1030c0'],
 [6,223,'Wystąpienie opadu','#f00000'],[6,237,'konwekcyjnego','#f00000'],
 [5,263,'Ciśnienie','#000'],[5,276,'zredukowane','#000'],[5,289,'do poziomu morza','#000'],
 [5,318,'Wiatr na 10m:','#000'],[10,335,'poryw powyżej skali','#f00000'],[10,348,'max porywy wiatru','#f00000'],
 [10,368,'prędkość wiatru','#0000a0'],[10,381,'w środku obszaru','#0000a0'],[10,409,'kierunek wiatru','#0000a0'],
 [6,429,'Wierzchołek chmur',DKRED],[6,444,'Podstawa chmur*','#000'],[6,456,'o pokryciu','#000'],
 [11,468,'> 7.9 okt.','#000'],[11,480,'> 6.5 okt.','#555'],[11,490,'> 4.5 okt.','#999'],[11,500,'> 2.5 okt.','#ddd'],
 [6,526,'Widzialność',ORG],[6,543,'Chmury:','#000'],[10,569,'średnie','#999'],[10,582,'niskie','#444'],[10,593,'bardzo niskie','#222'],
 [6,605,'Mgła','#ffb000'],[6,622,'Czas uniwersalny (UTC)','#000']];
leg.forEach(a=>T(a[0],a[1],a[2],a[3],{size:LS}));
R(11,505,44,12,'#82cfff',{z:5});T(13,511,'> 0.1 okt.','#fff',{size:LS});
R(10,551,41,14,'#82cfff',{z:5});T(11,558,'wysokie','#fff',{size:LS});
T(5,648,'* powyżej poziomu morza','#000',{size:10,bold:true});

L([[66,16],[134,16],[157,46]],'#000');
L([[101,43],[120,43],[157,103]],DKRED);
L([[92,76],[116,76]],'#f00000');L([[130,76],[137,80],[155,103]],'#f00000');
L([[70,99],[136,99]],'#0000d8');L([[94,120],[125,120],[136,112]],PURP);
L([[103,137],[138,137],[146,146]],'#f00000');
L([[106,151],[112,151]],HUM);L([[130,151],[146,163]],HUM);
L([[91,165],[113,165]],'#000');L([[130,168],[136,165],[139,172]],'#000');
L([[70,179],[140,179]],'#00a014');L([[81,190],[137,190]],'#00a014');
L([[74,201],[113,201]],'#1030c0');L([[130,202],[161,171]],'#1030c0');
L([[81,212],[130,212],[161,181]],'#1030c0');
L([[100,224],[144,224],[147,220]],'#f00000');
L([[52,264],[130,264],[136,262]],'#000',1.4);
L([[112,334],[118,334]],'#f00000');L([[130,334],[137,318]],'#f00000');
L([[108,348],[130,348],[145,340]],'#f00000');
L([[92,367],[136,367]],'#0000a0',1.2);L([[86,410],[136,410]],'#0000a0',1.2);
L([[100,429],[130,429],[184,447]],DKRED);
L([[57,468],[130,468],[191,456]],'#000');
L([[57,480],[143,481]],'#555');
L([[57,491],[130,491],[141,500]],'#999');
L([[57,500],[130,500],[136,504]],'#ddd');
L([[57,510],[136,510]],'#82cfff');L([[57,512],[136,512]],'#82cfff');
L([[67,527],[130,527],[172,465]],'#ff9900');
L([[52,556],[186,556]],'#82cfff');L([[52,558],[186,558]],'#82cfff');
L([[49,571],[193,571]],'#999');
L([[40,582],[122,582]],'#333');L([[130,582],[137,582]],'#333');
L([[73,594],[150,594]],'#000');
L([[27,605],[215,605],[219,600]],'#ffb000');
L([[138,623],[148,623],[157,609]],'#000');

const chart=echarts.init(document.getElementById('c'),null,{renderer:'canvas'});
chart.setOption({animation:false,backgroundColor:'#fff',grid:grids,xAxis:xAxes,yAxis:yAxes,series,graphic:{elements:G},tooltip:{show:false},legend:{show:false}});
</script></body></html>
